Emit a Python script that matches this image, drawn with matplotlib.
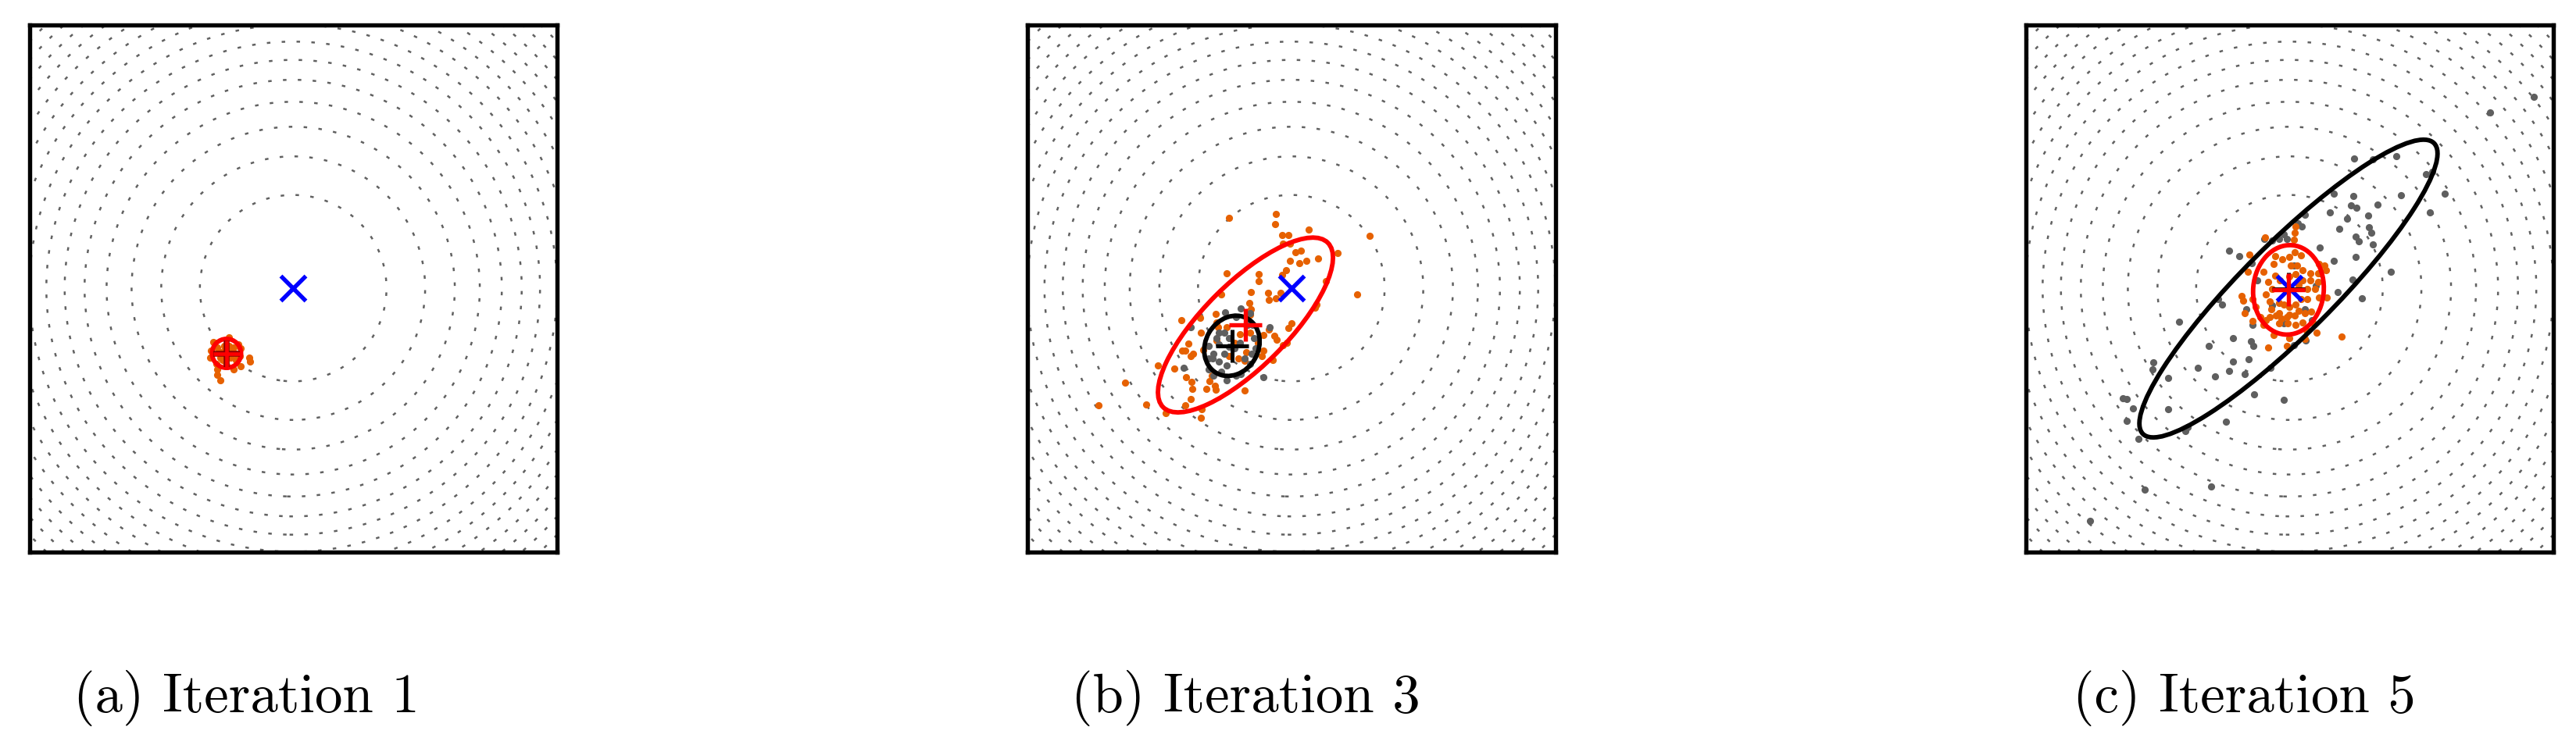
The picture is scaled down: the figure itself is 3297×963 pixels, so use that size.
import numpy as np
import matplotlib
matplotlib.use("Agg")
import matplotlib.pyplot as plt
from matplotlib.patches import Ellipse

# ---- data (axes span -4..4) ----
captions = ["(a) Iteration 1", "(b) Iteration 3", "(c) Iteration 5"]
target = (0.0, 0.0)
contour_levels = [2, 4, 6, 8, 10, 12, 14, 16, 18, 20, 22, 24, 26, 28, 30]

# iteration 1
p1_orange = np.array([
    (-1.207, -0.815), (-0.970, -0.748), (-0.793, -0.914), (-0.666, -1.060),
    (-0.654, -1.111), (-0.793, -1.183), (-0.899, -1.238), (-1.148, -1.230),
    (-1.148, -1.317), (-1.108, -1.396), (-1.254, -1.060), (-1.247, -0.954),
    (-0.832, -0.855), (-1.049, -0.875), (-1.068, -1.092), (-0.872, -1.092),
    (-0.931, -0.954), (-1.108, -0.973), (-1.009, -1.171), (-0.812, -1.032),
    (-1.167, -1.151), (-1.000, -1.000), (-0.950, -1.050), (-1.050, -0.950),
    (-0.900, -0.900), (-1.100, -1.050), (-0.980, -0.880), (-0.880, -1.000),
    (-1.150, -0.900), (-1.020, -1.120)])
p1_gray = np.empty((0, 2))
p1_red_mean = (-1.01, -0.99)
p1_red_ell = (0.44, 0.44, 0.0)      # width, height, angle
p1_black_mean = (-1.01, -0.99)
p1_black_ell = None

# iteration 3
p2_orange = np.array([
    (-0.940, 1.072), (-0.237, 1.123), (-0.249, 0.969), (0.261, 0.890),
    (1.192, 0.791), (-0.142, 0.803), (-0.043, 0.811), (-0.024, 0.677),
    (-0.122, 0.677), (0.059, 0.547), (0.146, 0.574), (0.707, 0.535),
    (0.403, 0.448), (0.233, 0.420), (0.126, 0.377), (-0.016, 0.420),
    (-0.075, 0.278), (-0.142, 0.199), (-0.493, 0.211), (-0.493, 0.101),
    (-0.979, 0.231), (0.525, 0.109), (0.995, -0.093), (-0.616, -0.057),
    (-1.058, -0.093), (-0.347, -0.073), (-0.340, -0.172), (-0.166, -0.073),
    (-0.229, -0.156), (-0.632, -0.231), (0.383, -0.243), (0.363, -0.298),
    (-0.608, -0.322), (-1.141, -0.393), (-1.382, -0.452), (-1.670, -0.480),
    (0.008, -0.531), (-0.047, -0.610), (-0.336, -0.630), (-0.261, -0.728),
    (-0.217, -0.784), (-0.426, -0.717), (-0.071, -0.835), (-0.130, -0.867),
    (-0.422, -0.953), (-0.446, -1.032), (-0.276, -1.092), (-1.374, -0.677),
    (-1.334, -0.934), (-1.137, -0.796), (-1.559, -0.843), (-1.611, -0.946),
    (-1.650, -0.946), (-1.492, -1.001), (-1.520, -1.032), (-2.017, -1.171),
    (-1.769, -1.222), (-1.591, -1.356), (-1.512, -1.419), (-1.500, -1.526),
    (-1.283, -1.530), (-1.157, -1.486), (-1.149, -1.545), (-1.208, -1.328),
    (-1.236, -1.407), (-1.524, -1.684), (-1.611, -1.775), (-2.519, -1.435),
    (-2.203, -1.771), (-2.921, -1.775), (-1.907, -1.901), (-1.374, -1.964),
    (-1.362, -1.842), (-0.703, -1.553), (-0.703, -1.099), (-0.979, -0.598),
    (-0.861, -0.835), (-0.782, -0.697), (-0.663, -0.499), (-0.624, -0.401),
    (-1.137, -0.519), (-0.940, -1.032), (-0.683, -0.973), (-0.505, -0.835),
    (-1.105, -0.598), (-0.624, -0.677), (-0.801, -1.072)])
p2_gray = np.array([
    (-1.524, -0.591), (-1.007, -0.373), (-0.762, -0.314), (-0.624, -0.381),
    (-1.255, -0.875), (-1.176, -0.993), (-1.098, -1.111), (-0.979, -1.171),
    (-1.255, -1.230), (-1.631, -1.210), (-0.979, -1.400), (-0.841, -1.328),
    (-0.762, -1.309), (-0.426, -1.356), (-1.196, -1.072), (-0.703, -1.072),
    (-0.545, -0.914), (-0.604, -0.993), (-1.019, -0.677), (-0.940, -0.756),
    (-0.861, -0.914), (-0.782, -0.835), (-1.098, -0.855), (-1.019, -0.993),
    (-0.940, -0.894), (-1.137, -0.756), (-0.663, -0.559), (-0.584, -0.559),
    (-1.098, -0.677), (-1.255, -1.072), (-0.841, -0.440), (-1.176, -1.328),
    (-1.058, -1.269), (-0.624, -1.151), (-0.328, -0.598), (-0.565, -0.756)])
p2_red_mean = (-0.695, -0.559)
p2_red_ell = (3.53, 1.27, 45.0)
p2_black_mean = (-0.90, -0.875)
p2_black_ell = (0.95, 0.80, 60.0)

# iteration 5
p3_orange = np.array([
    (0.096, 0.942), (0.084, 0.843), (0.068, 0.736), (-0.366, 0.772),
    (-0.603, 0.506), (-0.220, 0.488), (-0.110, 0.436), (-0.003, 0.476),
    (0.076, 0.547), (0.175, 0.495), (-0.240, 0.369), (0.017, 0.349),
    (0.115, 0.341), (0.194, 0.270), (0.313, 0.223), (0.431, 0.231),
    (0.451, 0.369), (0.530, 0.341), (0.550, 0.270), (-0.635, 0.243),
    (-0.398, 0.251), (-0.220, 0.191), (-0.319, 0.093), (-0.141, 0.113),
    (-0.003, 0.172), (0.096, 0.211), (0.194, 0.113), (0.313, 0.113),
    (0.431, 0.093), (0.392, -0.006), (0.273, -0.006), (0.135, 0.053),
    (-0.260, -0.006), (-0.358, -0.093), (-0.722, -0.116), (-0.706, -0.195),
    (-0.556, -0.164), (-0.516, -0.283), (-0.299, -0.203), (-0.161, -0.223),
    (-0.082, -0.243), (-0.003, -0.282), (0.096, -0.243), (0.175, -0.164),
    (0.273, -0.164), (0.451, -0.144), (0.562, -0.144), (-0.280, -0.322),
    (-0.161, -0.381), (-0.299, -0.440), (-0.437, -0.440), (-0.556, -0.500),
    (-0.208, -0.413), (-0.121, -0.460), (-0.042, -0.440), (-0.003, -0.401),
    (0.076, -0.413), (0.135, -0.342), (0.234, -0.381), (0.333, -0.361),
    (-0.358, -0.480), (-0.398, -0.559), (-0.161, -0.539), (-0.023, -0.539),
    (0.096, -0.559), (0.194, -0.519), (0.352, -0.519), (0.254, -0.638),
    (0.412, -0.677), (-0.240, -0.717), (-0.003, -0.756), (0.234, -0.776),
    (0.787, -0.736), (-0.319, -0.902), (-0.042, -0.882), (-0.674, -0.381)])
p3_gray = np.array([
    (3.706, 2.899), (3.039, 2.664), (0.984, 1.971), (1.261, 1.955),
    (1.622, 1.999), (2.067, 1.726), (2.167, 1.770), (1.695, 1.415),
    (2.356, 1.437), (0.678, 1.437), (0.967, 1.399), (0.928, 1.252),
    (1.011, 1.219), (1.334, 1.274), (0.611, 1.154), (0.872, 1.055),
    (1.195, 1.099), (2.134, 1.154), (0.234, 1.115), (0.122, 0.979),
    (0.189, 0.935), (0.750, 0.897), (1.206, 0.924), (1.245, 0.843),
    (1.000, 0.788), (1.050, 0.717), (1.261, 0.663), (-0.266, 0.728),
    (-0.155, 0.745), (-0.083, 0.815), (-0.044, 0.745), (-0.378, 0.745),
    (0.456, 0.619), (0.667, 0.417), (1.000, 0.472), (-0.911, 0.570),
    (-0.755, 0.488), (-0.572, 0.374), (1.539, 0.254), (0.956, 0.128),
    (0.734, -0.057), (1.095, -0.155), (-1.083, -0.166), (-1.017, -0.248),
    (-0.266, -0.264), (-0.655, -0.319), (-1.672, -0.510), (-0.555, -0.553),
    (-0.083, -0.537), (-0.861, -0.755), (-0.589, -0.810), (-0.544, -0.880),
    (0.067, -0.864), (0.245, -0.799), (-1.222, -0.875), (-2.061, -1.126),
    (-2.072, -1.235), (-0.850, -1.110), (-0.616, -1.082), (-1.394, -1.208),
    (-0.289, -1.208), (-1.833, -1.366), (-1.133, -1.339), (-0.911, -1.262),
    (-0.683, -1.300), (-0.533, -1.611), (-0.089, -1.698), (-2.528, -1.666),
    (-2.472, -1.682), (-2.367, -1.829), (-1.833, -1.835), (-2.461, -2.020),
    (-1.544, -2.107), (-1.583, -2.173), (-0.961, -2.026), (-2.283, -2.282),
    (-2.189, -3.062), (-1.183, -3.007), (-3.028, -3.536), (0.067, 0.347),
    (0.234, -0.319), (0.345, -0.482), (0.400, 0.036), (-0.489, 0.117),
    (0.456, 0.226)])
p3_red_mean = (-0.015, -0.026)
p3_red_ell = (1.07, 1.36, -5.0)
p3_black_mean = (-0.015, -0.006)
p3_black_ell = (6.24, 1.38, 45.0)

panels = [
    (p1_orange, p1_gray, p1_red_mean, p1_red_ell, p1_black_mean, p1_black_ell, False),
    (p2_orange, p2_gray, p2_red_mean, p2_red_ell, p2_black_mean, p2_black_ell, True),
    (p3_orange, p3_gray, p3_red_mean, p3_red_ell, p3_black_mean, p3_black_ell, False),
]

ORANGE = "#e66101"
GRAY = "#5f5f5f"

fig = plt.figure(figsize=(3297 / 300, 963 / 300), dpi=300)

lefts = [37.5, 1315.0, 2592.5]
cap_x = [315.0, 1594.0, 2872.0]
W, H = 3297.0, 963.0

g = np.linspace(-4, 4, 401)
X, Y = np.meshgrid(g, g)
Z = X ** 2 + Y ** 2

for i, (orange, gray, rm, rell, bm, bell, gray_on_top) in enumerate(panels):
    ax = fig.add_axes([lefts[i] / W, 1 - 706.5 / H, 675.5 / W, 675.0 / H])
    cs = ax.contour(X, Y, Z, levels=contour_levels, colors="0.38", linewidths=0.6)
    cs.set_linestyle((0, (1.8, 5.8)))

    z_or, z_gr = (3, 4) if gray_on_top else (4, 3)
    if len(gray):
        ax.plot(gray[:, 0], gray[:, 1], "o", color=GRAY, ms=2.2, mew=0, zorder=z_gr)
    ax.plot(orange[:, 0], orange[:, 1], "o", color=ORANGE, ms=2.2, mew=0, zorder=z_or)

    if bell is not None:
        ax.add_patch(Ellipse(bm, bell[0], bell[1], angle=bell[2], fill=False,
                             ec="black", lw=1.4, zorder=5))
    ax.add_patch(Ellipse(rm, rell[0], rell[1], angle=rell[2], fill=False,
                         ec="red", lw=1.4, zorder=5))

    ax.plot(*target, "x", color="blue", ms=7.5, mew=1.3, zorder=6)
    if i == 0:
        ax.plot(*bm, "+", color="#8b0000", ms=8.0, mew=1.8, zorder=7)
        ax.plot(*rm, "+", color="red", ms=8.0, mew=1.1, zorder=8)
    else:
        ax.plot(*bm, "+", color="black", ms=10, mew=1.2, zorder=7)
        ax.plot(*rm, "+", color="red", ms=10, mew=1.3, zorder=8)

    ax.set_xlim(-4, 4)
    ax.set_ylim(-4, 4)
    ax.set_xticks([])
    ax.set_yticks([])
    for s in ax.spines.values():
        s.set_linewidth(1.3)
        s.set_color("black")

    fig.text(cap_x[i] / W, 1 - 911.7 / H, captions[i], ha="center", va="baseline",
             fontsize=17, family="cmr10")

fig.savefig("out.png", dpi=300)
